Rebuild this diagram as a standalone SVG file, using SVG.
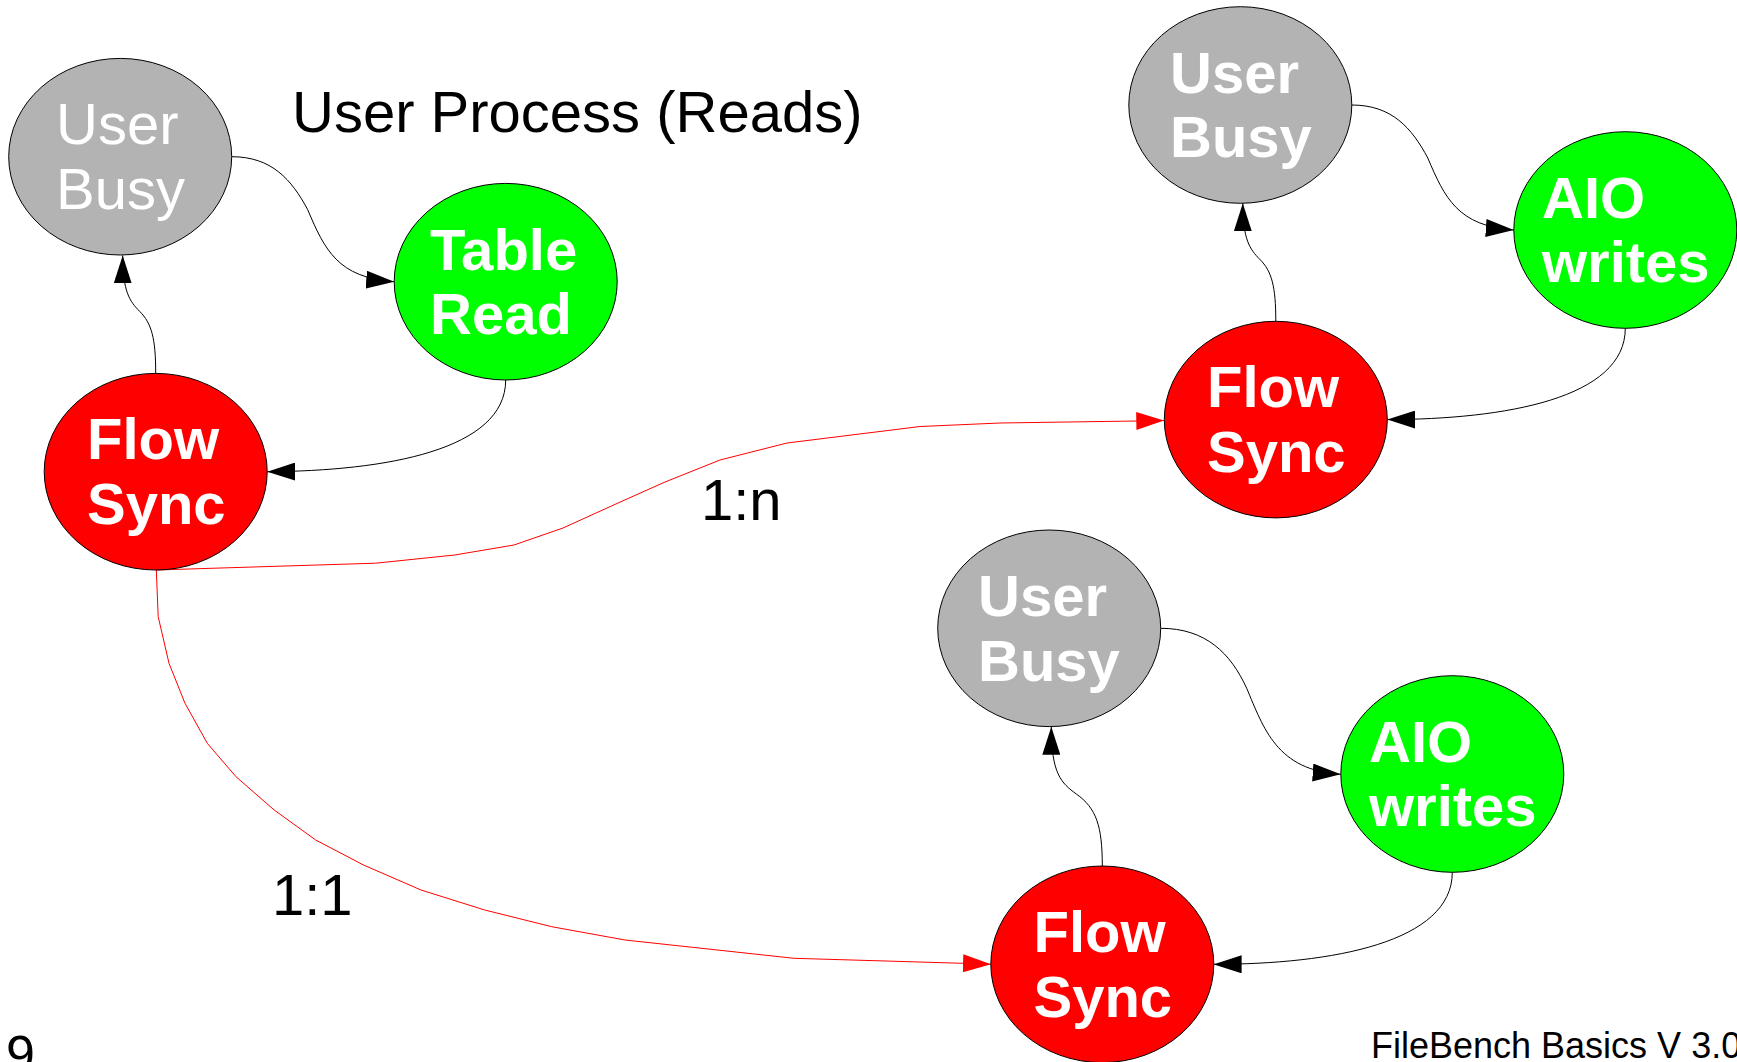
<svg xmlns="http://www.w3.org/2000/svg" width="1737" height="1062" viewBox="0 0 1737 1062">
  <style>
    .node { stroke: #000; stroke-width: 1; }
    .busy { fill: #b3b3b3; }
    .io { fill: #00ff00; }
    .sync { fill: #ff0000; }
    .lbl { font-family: "Liberation Sans", Arial, sans-serif; font-size: 58px; font-weight: bold; fill: #fff; }
    .lbl.thin { font-weight: normal; }
    .edge { fill: none; stroke: #000; stroke-width: 1; marker-end: url(#arrow); }
    .edge.red { stroke: #ff0000; marker-end: url(#arrow-red); }
    .txt { font-family: "Liberation Sans", Arial, sans-serif; fill: #000; }
  </style>
  <defs>
    <marker id="arrow" markerUnits="userSpaceOnUse" viewBox="0 0 28 18" markerWidth="28" markerHeight="18" refX="28" refY="9" orient="auto">
      <path d="M0,0 L28,9 L0,18 z" fill="#000"/>
    </marker>
    <marker id="arrow-red" markerUnits="userSpaceOnUse" viewBox="0 0 28 18" markerWidth="28" markerHeight="18" refX="28" refY="9" orient="auto">
      <path d="M0,0 L28,9 L0,18 z" fill="#ff0000"/>
    </marker>
  </defs>

  <rect width="1737" height="1062" fill="#fff"/>

  <!-- connectors -->
  <g id="edges">
    <!-- reader process -->
    <path class="edge" d="M231.7,156.7 c40,0 60,23 76,53 c17,40 30,68 86.5,72"/>
    <path class="edge" d="M155.7,373.4 c0,-35 -4,-50 -16,-62 c-10,-10 -17,-20 -17,-56"/>
    <path class="edge" d="M505.7,380 c0,70 -120,91 -238.5,91.7"/>
    <!-- writer process, upper -->
    <path class="edge" d="M1351.8,105 c40,0 60,23 76,53 c17,40 30,68 86,72"/>
    <path class="edge" d="M1275.8,321.3 c0,-35 -4,-50 -16,-62 c-10,-10 -17,-20 -17,-56"/>
    <path class="edge" d="M1625.3,328.3 c0,70 -120,91 -238,91.3"/>
    <!-- writer process, lower -->
    <path class="edge" d="M1160.7,628.3 c45,0 70,25 86,60 c17,40 30,82 94,86"/>
    <path class="edge" d="M1102.3,866 c0,-40 -6,-58 -26,-72 c-15,-11 -25,-20 -25,-67.3"/>
    <path class="edge" d="M1452.3,872.3 c0,70 -120,92 -238.7,92"/>
    <!-- sync fan-out -->
    <path class="edge red" d="M156.3,570 L375.6,563.2 L454.7,555 L514,545 L563,528 L618,503 L665,482 L720,460 L787,443 L920,426.5 L1000,423 L1136,421 L1164.3,420.5"/>
    <path class="edge red" d="M156.3,570 L158.2,616.7 L169,663.3 L185,703.3 L207.3,743.3 L236,776.7 L274.2,810 L315.7,840 L363.5,865 L421,890 L484.7,910 L551.7,926.7 L625,940 L794,958.3 L963,963.3 L991,964.3"/>
  </g>

  <!-- reader process -->
  <g id="user-busy-reader">
    <ellipse class="node busy" cx="120.2" cy="156.7" rx="111.5" ry="98.3"/>
    <text class="lbl thin" x="56" y="144">User</text>
    <text class="lbl thin" x="56" y="208.5">Busy</text>
  </g>
  <g id="table-read">
    <ellipse class="node io" cx="505.7" cy="281.7" rx="111.5" ry="98.3"/>
    <text class="lbl" x="430" y="269.5">Table</text>
    <text class="lbl" x="430" y="334">Read</text>
  </g>
  <g id="flow-sync-reader">
    <ellipse class="node sync" cx="155.7" cy="471.7" rx="111.5" ry="98.3"/>
    <text class="lbl" x="87" y="459.3">Flow</text>
    <text class="lbl" x="87" y="523.8">Sync</text>
  </g>

  <!-- writer process, upper -->
  <g id="user-busy-writer-a">
    <ellipse class="node busy" cx="1240.3" cy="105" rx="111.5" ry="98.3"/>
    <text class="lbl" x="1170" y="92.7">User</text>
    <text class="lbl" x="1170" y="157.2">Busy</text>
  </g>
  <g id="aio-writes-a">
    <ellipse class="node io" cx="1625.3" cy="230" rx="111.5" ry="98.3"/>
    <text class="lbl" x="1542" y="217.7">AIO</text>
    <text class="lbl" x="1542" y="282.2">writes</text>
  </g>
  <g id="flow-sync-writer-a">
    <ellipse class="node sync" cx="1275.8" cy="419.6" rx="111.5" ry="98.3"/>
    <text class="lbl" x="1207" y="407.3">Flow</text>
    <text class="lbl" x="1207" y="471.8">Sync</text>
  </g>

  <!-- writer process, lower -->
  <g id="user-busy-writer-b">
    <ellipse class="node busy" cx="1049.2" cy="628.3" rx="111.5" ry="98.3"/>
    <text class="lbl" x="978" y="616.3">User</text>
    <text class="lbl" x="978" y="680.8">Busy</text>
  </g>
  <g id="aio-writes-b">
    <ellipse class="node io" cx="1452.3" cy="774" rx="111.5" ry="98.3"/>
    <text class="lbl" x="1369" y="761.5">AIO</text>
    <text class="lbl" x="1369" y="826">writes</text>
  </g>
  <g id="flow-sync-writer-b">
    <ellipse class="node sync" cx="1102.3" cy="964.3" rx="111.5" ry="98.3"/>
    <text class="lbl" x="1033.5" y="952">Flow</text>
    <text class="lbl" x="1033.5" y="1016.5">Sync</text>
  </g>

  <!-- captions -->
  <text class="txt" x="292" y="132" font-size="58">User Process (Reads)</text>
  <text class="txt" x="701" y="520" font-size="58">1:n</text>
  <text class="txt" x="272" y="915" font-size="58">1:1</text>
  <text class="txt" x="6" y="1072" font-size="52">9</text>
  <text class="txt" x="1371" y="1058" font-size="36">FileBench Basics V 3.0</text>
</svg>
